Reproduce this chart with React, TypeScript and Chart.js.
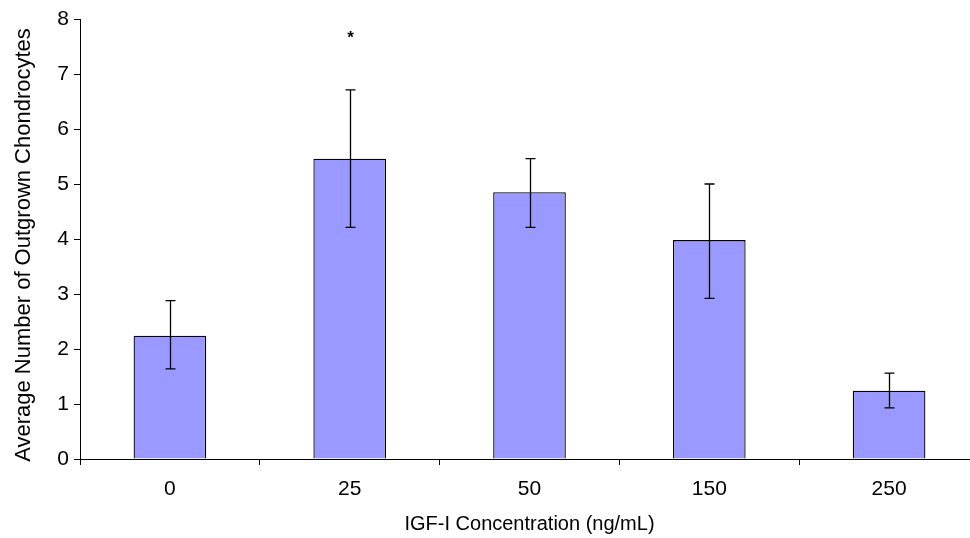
import { useEffect, useRef } from "react";
import { Chart, registerables } from "chart.js";

Chart.register(...registerables);

// IGF-I dose groups and mean outgrown chondrocyte counts
const concentrations = ["0", "25", "50", "150", "250"];
const meanCounts = [2.24, 5.46, 4.85, 3.98, 1.24];
// Lower and upper ends of the error bars
const errorLow = [1.64, 4.21, 4.21, 2.92, 0.93];
const errorHigh = [2.88, 6.71, 5.46, 5.0, 1.56];
// Significance markers and the height at which they sit
const significance = ["", "*", "", "", ""];
const significanceY = [0, 7.73, 0, 0, 0];

const yMin = 0;
const yMax = 8;
const yStep = 1;

const xTitle = "IGF-I Concentration (ng/mL)";
const yTitle = "Average Number of Outgrown Chondrocytes";

const FONT = "'Liberation Sans', Arial, Helvetica, sans-serif";

const errorBarPlugin = {
  id: "errorBars",
  afterDatasetsDraw(chart: any) {
    const meta = chart.getDatasetMeta(0);
    const yScale = chart.scales.y;
    const ctx = chart.ctx;
    ctx.save();
    ctx.strokeStyle = "#000";
    ctx.lineWidth = 1.3;
    meta.data.forEach((bar: any, i: number) => {
      const x = Math.round(bar.x) + 0.5;
      const yHi = yScale.getPixelForValue(errorHigh[i]);
      const yLo = yScale.getPixelForValue(errorLow[i]);
      const cap = 5;
      ctx.beginPath();
      ctx.moveTo(x, yHi);
      ctx.lineTo(x, yLo);
      ctx.moveTo(x - cap, yHi);
      ctx.lineTo(x + cap, yHi);
      ctx.moveTo(x - cap, yLo);
      ctx.lineTo(x + cap, yLo);
      ctx.stroke();
      if (significance[i]) {
        ctx.fillStyle = "#000";
        ctx.font = `bold 17px ${FONT}`;
        ctx.textAlign = "center";
        ctx.textBaseline = "middle";
        ctx.fillText(significance[i], x, yScale.getPixelForValue(significanceY[i]) + 4);
      }
    });
    ctx.restore();
  },
};

// Vertical axis title, drawn rotated beside the y axis
const yTitlePlugin = {
  id: "yTitle",
  afterDraw(chart: any) {
    const ctx = chart.ctx;
    const area = chart.chartArea;
    ctx.save();
    ctx.translate(30, (area.top + area.bottom) / 2 + 6);
    ctx.rotate(-Math.PI / 2);
    ctx.fillStyle = "#000";
    ctx.font = `22px ${FONT}`;
    ctx.textAlign = "center";
    ctx.textBaseline = "alphabetic";
    ctx.fillText(yTitle, 0, 0);
    ctx.restore();
  },
};

export default function App() {
  const canvasRef = useRef<HTMLCanvasElement | null>(null);

  useEffect(() => {
    if (!canvasRef.current) return;
    const chart = new Chart(canvasRef.current, {
      type: "bar",
      data: {
        labels: concentrations,
        datasets: [
          {
            data: meanCounts,
            backgroundColor: "#9999FF",
            borderColor: "#000",
            borderWidth: 1.3,
            categoryPercentage: 1,
            barPercentage: 0.404,
          },
        ],
      },
      options: {
        responsive: false,
        animation: false,
        layout: { padding: { top: 19, right: 0, bottom: 0, left: 0 } },
        plugins: {
          legend: { display: false },
          tooltip: { enabled: false },
        },
        scales: {
          x: {
            offset: true,
            grid: {
              offset: true,
              drawOnChartArea: false,
              drawTicks: true,
              tickLength: 6,
              color: "#000",
            },
            border: { color: "#000", width: 1 },
            ticks: {
              color: "#000",
              font: { family: FONT, size: 21 },
              padding: 12,
              maxRotation: 0,
            },
            title: {
              display: true,
              text: xTitle,
              color: "#000",
              font: { family: FONT, size: 20 },
              padding: { top: 0, bottom: 2 },
            },
            afterFit(scale: any) {
              scale.height = 79;
            },
          },
          y: {
            min: yMin,
            max: yMax,
            grid: {
              drawOnChartArea: false,
              drawTicks: true,
              tickLength: 6,
              color: "#000",
            },
            border: { color: "#000", width: 1 },
            ticks: {
              stepSize: yStep,
              color: "#000",
              font: { family: FONT, size: 21 },
              padding: 5,
            },
            afterFit(scale: any) {
              scale.width = 80;
            },
          },
        },
      },
      plugins: [errorBarPlugin, yTitlePlugin],
    });
    return () => chart.destroy();
  }, []);

  return (
    <div
      style={{
        position: "absolute",
        left: 0,
        top: 0,
        width: 970,
        height: 538,
        overflow: "hidden",
        background: "#fff",
      }}
    >
      <canvas ref={canvasRef} width={979} height={538} style={{ display: "block" }} />
    </div>
  );
}
